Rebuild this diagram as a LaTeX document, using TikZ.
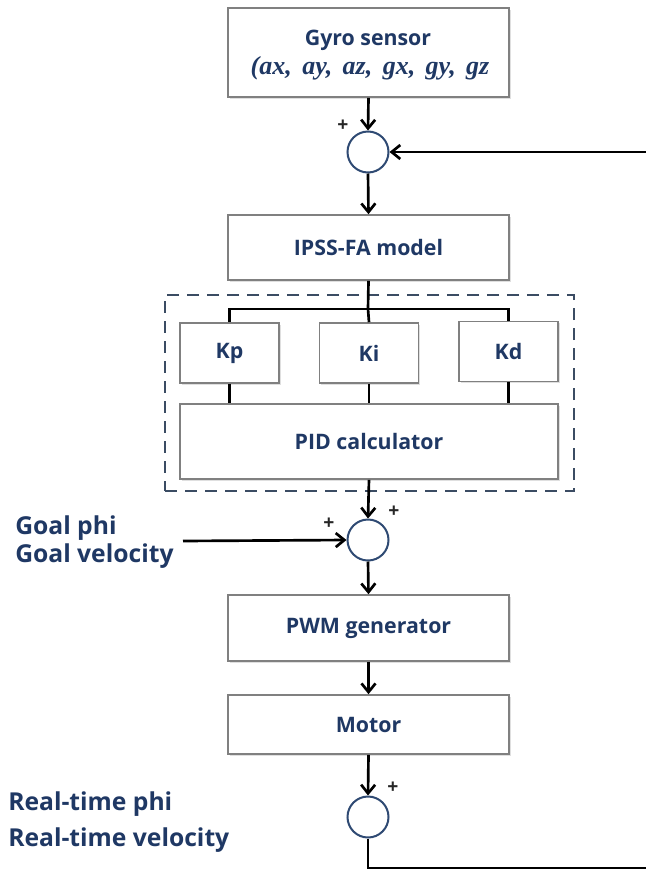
\documentclass[tikz,border=0pt]{standalone}
\usepackage{fontspec}
\setmainfont{Open Sans}
\newfontfamily\varsfont[WordSpace=1.6]{Liberation Serif}
\usetikzlibrary{arrows.meta,shadows}
\definecolor{navy}{RGB}{31,56,100}
\definecolor{boxgray}{RGB}{128,128,128}
\definecolor{dashnavy}{RGB}{59,76,99}
\definecolor{ringnavy}{RGB}{47,74,115}
\begin{document}
\begin{tikzpicture}[x=0.75pt,y=-0.75pt,
  block/.style={draw=boxgray, line width=1.2pt, fill=white, text=navy,
    font=\bfseries\fontsize{16}{19}\selectfont, inner sep=0pt, align=center,
    drop shadow={shadow xshift=1.2pt, shadow yshift=-1.2pt, opacity=0.25}},
  wide/.style={minimum width=210.75pt},
  gain/.style={minimum width=74.25pt, minimum height=45pt},
  sumnode/.style={circle, draw=ringnavy, line width=1.5pt, minimum size=30.75pt,
    inner sep=0pt, fill=white},
  flow/.style={line width=2pt, -{Straight Barb[length=6.5pt,width=10.5pt]}},
  wire/.style={line width=2pt},
  sign/.style={font=\bfseries\fontsize{14.5}{16}\selectfont, text=black!85, inner sep=0pt},
  sidelabel/.style={text=navy, font=\bfseries\fontsize{18.5}{22}\selectfont,
    anchor=west, inner sep=0pt},
  groupbox/.style={draw=dashnavy, line width=1.9pt, dash pattern=on 9pt off 6pt,
    minimum width=306.75pt, minimum height=147pt, inner sep=0pt},
]
\useasboundingbox (0,0) rectangle (646,871);

% controller chain
\node[block, wide, minimum height=66.75pt] (gyro) at (368.5,52.5) {};
\node[text=navy, font=\bfseries\fontsize{16}{19}\selectfont, inner sep=0pt] (gyrotitle) at (368,40) {Gyro sensor};
\node[text=navy, font=\varsfont\bfseries\itshape\fontsize{19.5}{21}\selectfont, inner sep=0pt] (gyrovars) at (370,68)
  {(ax, ay, az, gx, gy, gz};
\node[sumnode] (sum1) at (368,152) {};
\node[block, wide, minimum height=48.75pt] (ipss) at (368.5,247.5) {IPSS-FA model};

% PID group
\node[groupbox] (pidgroup) at (369.5,393) {};
\node[block, gain] (kp) at (229.5,353) {Kp};
\node[block, gain] (ki) at (369,353) {Ki};
\node[block, gain] (kd) at (508.5,351.5) {Kd};
\node[block, minimum width=283.5pt, minimum height=56.25pt] (pid) at (369,441.5) {PID calculator};

\node[sumnode] (sum2) at (368,540) {};
\node[block, wide, minimum height=49.5pt] (pwm) at (368.5,628) {PWM generator};
\node[block, wide, minimum height=44.25pt] (motor) at (368.5,724.5) {Motor};
\node[sumnode] (sum3) at (368,817) {};

% signs
\node[sign] (s1) at (343,126) {+};
\node[sign] (s2a) at (329,524) {+};
\node[sign] (s2b) at (394,512) {+};
\node[sign] (s3) at (393,788) {+};

% side labels
\node[sidelabel] (goal1) at (15,528) {Goal phi};
\node[sidelabel] (goal2) at (15,556) {Goal velocity};
\node[sidelabel] (real1) at (8,804) {Real-time phi};
\node[sidelabel] (real2) at (8,840) {Real-time velocity};

% connectors
\coordinate (split) at (368,309);
\coordinate (goalin) at (183,541);
\coordinate (fbtop) at (646,152);
\coordinate (fbbot) at (646,868);

\draw[flow] (gyro.south) -- (sum1.north);
\draw[flow] (sum1.south) -- (ipss.north);
\draw[wire] (ipss.south) -- (split);
\draw[wire] (kp.north) |- (split) -| (kd.north);
\draw[wire] (split) -- (ki.north);
\draw[wire] (kp.south) -- (kp.south |- pid.north);
\draw[wire] (ki.south) -- (ki.south |- pid.north);
\draw[wire] (kd.south) -- (kd.south |- pid.north);
\draw[flow] (pid.south) -- (sum2.north);
\draw[flow] (goalin) -- (sum2.west);
\draw[flow] (sum2.south) -- (pwm.north);
\draw[flow] (pwm.south) -- (motor.north);
\draw[flow] (motor.south) -- (sum3.north);
\draw[wire] (sum3.south) |- (fbbot);
\draw[flow] (fbtop) -- (sum1.east);
\end{tikzpicture}
\end{document}
